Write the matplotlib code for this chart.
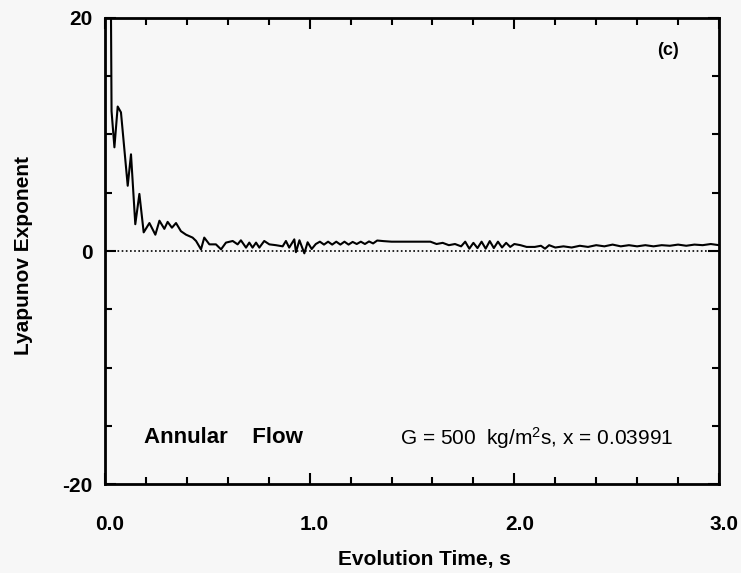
import matplotlib
matplotlib.use("Agg")
import matplotlib.pyplot as plt
import matplotlib.transforms as mtransforms
from matplotlib.ticker import MultipleLocator

# ---- Data (evolution time in s, exponent)
time_s = [
    0.028, 0.032, 0.046, 0.062, 0.078, 0.111, 0.127, 0.148, 0.168, 0.189,
    0.217, 0.246, 0.266, 0.290, 0.306, 0.327, 0.347, 0.371, 0.396, 0.428,
    0.445, 0.469, 0.485, 0.510, 0.542, 0.567, 0.591, 0.624, 0.648, 0.664,
    0.689, 0.705, 0.721, 0.738, 0.754, 0.778, 0.803, 0.835, 0.868, 0.884,
    0.900, 0.925, 0.933, 0.950, 0.974, 0.990, 1.010, 1.030, 1.050, 1.070,
    1.090, 1.110, 1.130, 1.150, 1.170, 1.190, 1.210, 1.230, 1.250, 1.270,
    1.290, 1.310, 1.330, 1.360, 1.400, 1.450, 1.500, 1.550, 1.590, 1.620,
    1.650, 1.680, 1.710, 1.740, 1.760, 1.780, 1.800, 1.820, 1.840, 1.860,
    1.880, 1.900, 1.920, 1.940, 1.960, 1.980, 2.000, 2.030, 2.060, 2.100,
    2.130, 2.150, 2.170, 2.200, 2.240, 2.280, 2.320, 2.360, 2.400, 2.440,
    2.480, 2.520, 2.560, 2.600, 2.640, 2.680, 2.720, 2.760, 2.800, 2.840,
    2.880, 2.920, 2.960, 3.000,
]
lyapunov = [
    24.0, 12.0, 8.9, 12.4, 11.9, 5.6, 8.3, 2.3, 4.9, 1.6,
    2.4, 1.4, 2.6, 1.9, 2.5, 2.0, 2.4, 1.7, 1.4, 1.15,
    0.86, 0.14, 1.15, 0.57, 0.57, 0.14, 0.72, 0.86, 0.57, 0.92,
    0.29, 0.72, 0.29, 0.72, 0.29, 0.86, 0.57, 0.50, 0.40, 0.86,
    0.29, 1.00, -0.10, 0.92, -0.20, 0.75, 0.17, 0.60, 0.80, 0.55,
    0.80, 0.55, 0.80, 0.55, 0.80, 0.55, 0.78, 0.60, 0.80, 0.60,
    0.82, 0.65, 0.90, 0.85, 0.80, 0.80, 0.80, 0.80, 0.80, 0.60,
    0.70, 0.50, 0.60, 0.40, 0.80, 0.20, 0.70, 0.25, 0.80, 0.20,
    0.85, 0.25, 0.80, 0.30, 0.70, 0.35, 0.60, 0.50, 0.35, 0.35,
    0.45, 0.20, 0.50, 0.30, 0.40, 0.30, 0.45, 0.35, 0.50, 0.40,
    0.55, 0.40, 0.50, 0.40, 0.50, 0.40, 0.50, 0.45, 0.55, 0.45,
    0.55, 0.50, 0.60, 0.50,
]

x_ticks = [0.0, 1.0, 2.0, 3.0]
x_labels = ["0.0", "1.0", "2.0", "3.0"]
y_ticks = [-20, 0, 20]
y_labels = ["-20", "0", "20"]

plt.rcParams["font.family"] = ["Liberation Sans", "DejaVu Sans"]
plt.rcParams["mathtext.fontset"] = "custom"
plt.rcParams["mathtext.rm"] = "Liberation Sans"
plt.rcParams["mathtext.it"] = "Liberation Sans"
plt.rcParams["mathtext.bf"] = "Liberation Sans:bold"

fig = plt.figure(figsize=(7.41, 5.73), dpi=100, facecolor="#f7f7f7")
ax = fig.add_axes([0.1417, 0.1553, 0.8286, 0.8133])
ax.set_facecolor("#f7f7f7")

ax.axhline(0, color="black", lw=1.2, ls=(0, (1, 1.5)))
ax.plot(time_s, lyapunov, color="black", lw=1.5)

ax.set_xlim(0, 3)
ax.set_ylim(-20, 20)
ax.set_xticks(x_ticks)
ax.set_xticklabels(x_labels)
ax.set_yticks(y_ticks)
ax.set_yticklabels(y_labels)
ax.xaxis.set_minor_locator(MultipleLocator(0.2))
ax.yaxis.set_minor_locator(MultipleLocator(5))

ax.tick_params(which="both", direction="in", top=True, right=True, width=1.5)
ax.tick_params(which="major", length=8, labelsize=15)
ax.tick_params(axis="x", which="major", pad=22)
ax.tick_params(axis="y", which="major", pad=9)
ax.tick_params(which="minor", length=5)
shift = mtransforms.ScaledTranslation(5 / 100, 0, fig.dpi_scale_trans)
for lbl in ax.get_xticklabels():
    lbl.set_fontweight("bold")
    lbl.set_transform(lbl.get_transform() + shift)
for lbl in ax.get_yticklabels():
    lbl.set_fontweight("bold")
for sp in ax.spines.values():
    sp.set_linewidth(2)

ax.set_xlabel("Evolution Time, s", fontsize=15, fontweight="bold")
ax.xaxis.set_label_coords(0.5195, -0.142)
ax.set_ylabel("Lyapunov Exponent", fontsize=15, fontweight="bold")
ax.yaxis.set_label_coords(-0.117, 0.49)

ax.text(0.19, -16.05, "Annular    Flow", fontsize=16, fontweight="bold",
        va="center")
ax.text(1.441, -16.05, r"G = 500  kg/m$^2$s, x = 0.03991", fontsize=15,
        va="center")
ax.text(2.75, 17.25, "(c)", fontsize=13, fontweight="bold",
        ha="center", va="center")

fig.savefig("out.png", dpi=100, facecolor=fig.get_facecolor())
